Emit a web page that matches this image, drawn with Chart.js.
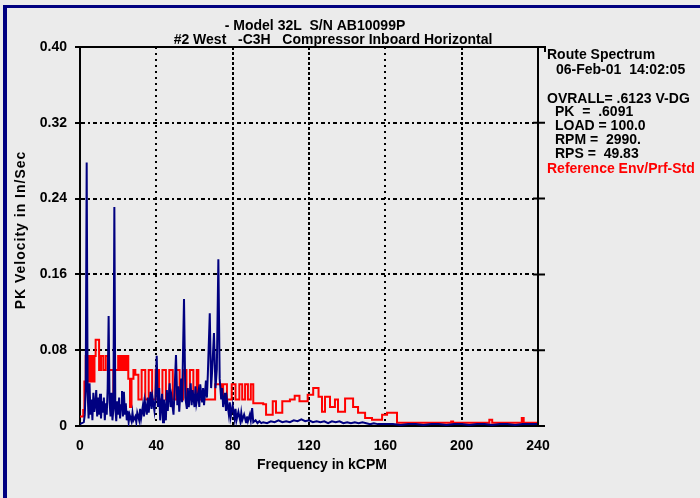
<!DOCTYPE html>
<html>
<head>
<meta charset="utf-8">
<script src="https://cdn.jsdelivr.net/npm/chart.js@4"></script>
<style>
html,body{margin:0;padding:0;background:#ebebeb;}
canvas{display:block;}
</style>
</head>
<body>
<canvas id="c" width="700" height="498"></canvas>
<script>
// ---- Data ----
const titleLines = ['- Model 32L  S/N AB10099P', '#2 West   -C3H   Compressor Inboard Horizontal'];
const xAxisTitle = 'Frequency in kCPM';
const yAxisTitle = 'PK Velocity in In/Sec';
const xTickValues = [0, 40, 80, 120, 160, 200, 240];
const xTickLabels = ['0', '40', '80', '120', '160', '200', '240'];
const yTickValues = [0, 0.08, 0.16, 0.24, 0.32, 0.40];
const yTickLabels = ['0', '0.08', '0.16', '0.24', '0.32', '0.40'];
const infoLines = ['Route Spectrum', '06-Feb-01  14:02:05', 'OVRALL= .6123 V-DG', 'PK  =  .6091', 'LOAD = 100.0', 'RPM =  2990.', 'RPS =  49.83'];
const envLabel = 'Reference Env/Prf-Std';

// Spectrum (blue) : frequency in kCPM, amplitude in In/Sec
const spectrumFreq = [
  0, 1, 2, 2.5, 3, 3.5, 4, 4.5, 5, 5.5, 6, 6.5, 7, 7.5, 8, 8.5, 9, 9.5, 10, 10.5,
  11, 11.5, 12, 12.5, 13, 13.5, 14, 14.5, 15, 15.5, 16, 16.5, 17, 17.5, 18, 18.5, 19, 19.5, 20, 20.5,
  21, 21.5, 22, 22.5, 23, 23.5, 24, 24.5, 25, 25.5, 26, 27, 27.5, 28, 29, 29.5, 30, 31, 31.5, 32,
  33, 33.5, 34, 35, 35.5, 36, 37, 37.5, 38, 39, 39.5, 40.2, 40.8, 41.5, 42, 43, 43.5, 44, 45, 45.5,
  46, 47, 47.5, 48, 49, 49.5, 50.3, 51, 51.5, 52, 53, 53.5, 54.5, 55.2, 56, 56.5, 57, 58, 58.5, 59,
  60, 60.5, 61, 62, 62.5, 63, 64, 64.5, 65, 66, 66.5, 67, 68, 68.7, 69.3, 70.2, 71, 71.7, 72.5, 73.2,
  74, 74.5, 75, 76, 76.5, 77, 78, 78.5, 79, 80, 81, 81.5, 82, 83, 84, 84.5, 85, 86, 87, 87.5,
  88, 89, 89.5, 90.2, 90.8, 92, 93, 94, 95, 96, 98, 100, 102, 104, 106, 108, 110, 112, 114, 116,
  118, 120, 122, 124, 126, 128, 130, 132, 134, 136, 138, 140, 142, 144, 146, 148, 150, 152, 154, 156,
  160, 164, 168, 172, 176, 180, 184, 188, 192, 196, 200, 204, 208, 212, 216, 220, 224, 228, 232, 236, 240
];
const spectrumAmp = [
  0.002, 0.003, 0.004, 0.012, 0.040, 0.278, 0.035, 0.008, 0.045, 0.012, 0.028, 0.006, 0.035, 0.015, 0.022, 0.038, 0.010, 0.030, 0.012, 0.034,
  0.008, 0.026, 0.014, 0.030, 0.006, 0.024, 0.012, 0.040, 0.116, 0.025, 0.010, 0.035, 0.006, 0.018, 0.231, 0.020, 0.005, 0.026, 0.012, 0.030,
  0.008, 0.022, 0.037, 0.010, 0.036, 0.012, 0.024, 0.006, 0.016, 0.004, 0.012, 0.005, 0.014, 0.006, 0.010, 0.004, 0.014, 0.006, 0.018, 0.008,
  0.022, 0.010, 0.026, 0.012, 0.030, 0.014, 0.036, 0.018, 0.030, 0.016, 0.028, 0.074, 0.020, 0.040, 0.006, 0.034, 0.004, 0.028, 0.006, 0.038,
  0.016, 0.045, 0.020, 0.030, 0.012, 0.035, 0.075, 0.022, 0.042, 0.015, 0.050, 0.025, 0.134, 0.030, 0.018, 0.040, 0.020, 0.045, 0.022, 0.038,
  0.020, 0.042, 0.024, 0.036, 0.020, 0.044, 0.025, 0.040, 0.022, 0.048, 0.030, 0.055, 0.119, 0.040, 0.060, 0.098, 0.040, 0.060, 0.176, 0.050,
  0.028, 0.040, 0.020, 0.035, 0.016, 0.028, 0.012, 0.025, 0.010, 0.022, 0.008, 0.018, 0.006, 0.015, 0.005, 0.014, 0.006, 0.012, 0.004, 0.010,
  0.005, 0.012, 0.006, 0.019, 0.004, 0.006, 0.003, 0.005, 0.003, 0.004, 0.003, 0.005, 0.004, 0.006, 0.004, 0.005, 0.004, 0.006, 0.005, 0.007,
  0.005, 0.006, 0.004, 0.005, 0.004, 0.005, 0.003, 0.005, 0.004, 0.005, 0.003, 0.004, 0.003, 0.004, 0.003, 0.004, 0.003, 0.002, 0.003, 0.002,
  0.002, 0.002, 0.001, 0.002, 0.002, 0.001, 0.002, 0.002, 0.001, 0.002, 0.002, 0.001, 0.002, 0.002, 0.001, 0.002, 0.002, 0.001, 0.002, 0.002, 0.002
];

// Reference envelope (red, stepped): start frequency of each step, level
const envFreq = [
  0, 1.7, 2.3, 3.0, 3.6, 4.2, 4.8, 5.4, 6.0, 6.6, 7.2, 7.6, 8.2, 10.0, 11.0, 12.2, 13.5, 14.8, 17.5, 18.0,
  20.0, 20.6, 21.2, 21.8, 22.4, 23.0, 23.6, 24.2, 24.8, 25.3, 26.2, 27.0, 28.0, 29.0, 30.6, 32.3, 34.2, 36.0, 37.8, 39.6,
  41.4, 43.2, 45.0, 46.8, 48.6, 50.4, 52.2, 54.0, 55.8, 57.6, 59.4, 61.2, 62.0, 70.8, 74.0, 75.0, 77.0, 79.5, 81.5, 83.5,
  85.0, 86.5, 88.0, 89.5, 90.8, 96.0, 97.5, 101.0, 102.7, 106.0, 110.0, 112.5, 115.0, 119.3, 122.2, 125.0, 126.8, 128.4, 131.0, 133.6,
  135.2, 138.9, 143.1, 145.7, 149.4, 153.0, 158.3, 160.9, 166.1, 194.5, 195.5, 214.5, 216.0, 231.5, 232.5, 240
];
const envAmp = [
  0.010, 0.017, 0.047, 0.074, 0.047, 0.074, 0.047, 0.074, 0.047, 0.074, 0.047, 0.074, 0.091, 0.059, 0.074, 0.059, 0.074, 0.059, 0.028, 0.059,
  0.074, 0.059, 0.074, 0.059, 0.074, 0.059, 0.074, 0.059, 0.074, 0.050, 0.020, 0.050, 0.059, 0.054, 0.028, 0.059, 0.028, 0.059, 0.028, 0.059,
  0.028, 0.059, 0.028, 0.059, 0.028, 0.059, 0.028, 0.059, 0.028, 0.059, 0.028, 0.059, 0.028, 0.044, 0.030, 0.044, 0.028, 0.044, 0.028, 0.044,
  0.028, 0.044, 0.028, 0.044, 0.024, 0.023, 0.012, 0.026, 0.014, 0.026, 0.028, 0.032, 0.026, 0.033, 0.040, 0.031, 0.015, 0.031, 0.020, 0.028,
  0.015, 0.029, 0.020, 0.014, 0.0085, 0.0065, 0.012, 0.014, 0.0035, 0.0048, 0.0035, 0.0065, 0.0035, 0.0085, 0.0035, 0.0035
];

// ---- Chart ----
const FONT = 'Liberation Sans, Arial, sans-serif';
const tickFont = {family: FONT, size: 14, weight: 'bold'};

const framePlugin = {
  id: 'frame',
  beforeDraw(chart) {
    const ctx = chart.ctx;
    ctx.save();
    ctx.fillStyle = '#ebebeb';
    ctx.fillRect(0, 0, chart.width, chart.height);
    ctx.fillStyle = '#000080';
    ctx.fillRect(3, 5, 4, chart.height - 5);
    ctx.fillRect(3, 5, chart.width - 3, 3);
    ctx.restore();
  },
  afterDraw(chart) {
    const ctx = chart.ctx;
    const a = chart.chartArea;
    const ys = chart.scales.y;
    ctx.save();
    ctx.strokeStyle = '#000';
    ctx.lineWidth = 2;
    ctx.beginPath();
    ctx.moveTo(a.left - 5, a.top); ctx.lineTo(a.right + 7, a.top);
    ctx.moveTo(a.right, a.top - 1); ctx.lineTo(a.right, a.bottom);
    ctx.moveTo(a.right, a.bottom); ctx.lineTo(a.right + 7, a.bottom);
    ctx.stroke();
    ctx.beginPath();
    yTickValues.forEach(v => {
      const y = ys.getPixelForValue(v);
      ctx.moveTo(a.right - 5, y); ctx.lineTo(a.right + 7, y);
    });
    ctx.moveTo(a.right + 7, a.top - 1); ctx.lineTo(a.right + 7, a.top + 5);
    ctx.stroke();

    ctx.fillStyle = '#000';
    ctx.font = 'bold 14px ' + FONT;
    ctx.textBaseline = 'alphabetic';
    ctx.textAlign = 'center';
    ctx.fillText(titleLines[0], 315, 30);
    ctx.fillText(titleLines[1], 333, 44);
    ctx.fillText(xAxisTitle, 322, 469);

    ctx.textAlign = 'left';
    const infoX = [547, 556, 547, 555, 555, 555, 555];
    const infoY = [59, 74, 103, 116, 130, 144, 158];
    infoLines.forEach((t, i) => ctx.fillText(t, infoX[i], infoY[i]));
    ctx.fillStyle = '#ff0000';
    ctx.fillText(envLabel, 547, 173);

    ctx.fillStyle = '#000';
    ctx.translate(25, 230);
    ctx.rotate(-Math.PI / 2);
    ctx.textAlign = 'center';
    if ('letterSpacing' in ctx) ctx.letterSpacing = '1px';
    ctx.fillText(yAxisTitle, 0, 0);
    ctx.restore();
  }
};

new Chart(document.getElementById('c'), {
  type: 'line',
  data: {
    datasets: [
      {
        label: 'Spectrum',
        data: spectrumFreq.map((f, i) => ({x: f, y: spectrumAmp[i]})),
        borderColor: '#000080',
        borderWidth: 2,
        pointRadius: 0,
        tension: 0
      },
      {
        label: envLabel,
        data: envFreq.map((f, i) => ({x: f, y: envAmp[i]})),
        borderColor: '#ff0000',
        borderWidth: 2,
        pointRadius: 0,
        stepped: 'before'
      }
    ]
  },
  options: {
    responsive: false,
    animation: false,
    devicePixelRatio: 1,
    layout: {padding: {left: 0, right: 162, top: 47, bottom: 0}},
    plugins: {legend: {display: false}, tooltip: {enabled: false}, title: {display: false}},
    scales: {
      x: {
        type: 'linear',
        min: 0, max: 240,
        afterBuildTicks: s => { s.ticks = xTickValues.map(v => ({value: v})); },
        afterFit: s => { s.height = 72; },
        ticks: {
          font: tickFont, color: '#000', maxRotation: 0, autoSkip: false, padding: 12,
          callback: (v) => xTickLabels[xTickValues.indexOf(v)]
        },
        grid: {color: '#000', lineWidth: 2, drawTicks: false},
        border: {
          display: true, color: '#000', width: 2,
          dash: (c) => (c.tick && (c.tick.value === 40 || c.tick.value === 160)) ? [2, 4] : [3, 2]
        }
      },
      y: {
        type: 'linear',
        min: 0, max: 0.4,
        afterBuildTicks: s => { s.ticks = yTickValues.map(v => ({value: v})); },
        afterFit: s => { s.width = 80; },
        ticks: {
          font: tickFont, color: '#000', autoSkip: false, padding: 8,
          callback: (v) => yTickLabels[yTickValues.findIndex(t => Math.abs(t - v) < 1e-9)]
        },
        grid: {color: '#000', lineWidth: 2, drawTicks: true, tickLength: 5, tickBorderDash: []},
        border: {display: true, color: '#000', width: 2, dash: [4, 3, 2, 3]}
      }
    }
  },
  plugins: [framePlugin]
});
</script>
</body>
</html>
